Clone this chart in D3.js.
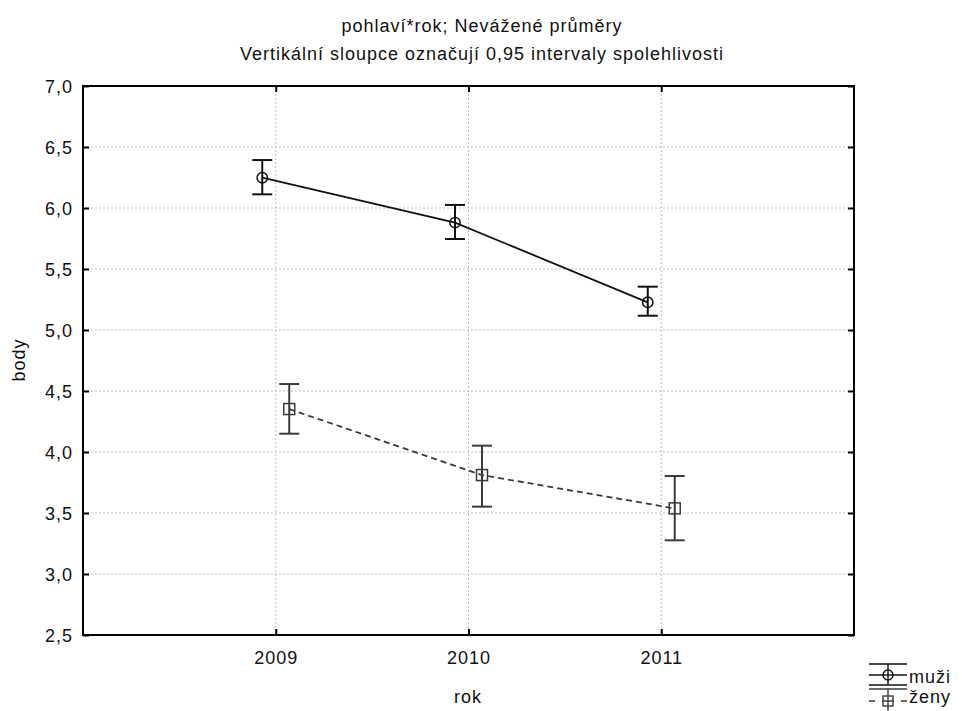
<!DOCTYPE html>
<html><head><meta charset="utf-8">
<script src="https://cdn.jsdelivr.net/npm/d3@7/dist/d3.min.js"></script>
<style>body{margin:0;background:#fff}svg{display:block}text{font-family:"Liberation Sans",Arial,sans-serif;fill:#111}</style>
</head><body>
<svg id="c" width="962" height="711"></svg>
<script>
const years = [2009, 2010, 2011];
const muziMean = [6.248, 5.880, 5.227];
const muziLow  = [6.112, 5.746, 5.117];
const muziHigh = [6.393, 6.025, 5.355];
const zenyMean = [4.352, 3.811, 3.538];
const zenyLow  = [4.150, 3.552, 3.276];
const zenyHigh = [4.557, 4.052, 3.803];
const yTicks = [2.5, 3.0, 3.5, 4.0, 4.5, 5.0, 5.5, 6.0, 6.5, 7.0];
const seriesNames = ["muži", "ženy"];
const titleLines = ["pohlaví*rok; Nevážené průměry", "Vertikální sloupce označují 0,95 intervaly spolehlivosti"];

const svg = d3.select("#c");
const L = 83, R = 854, T = 86, B = 635;
const x = d3.scaleLinear().domain([2008, 2012]).range([L, R]);
const y = d3.scaleLinear().domain([2.5, 7]).range([B, T]);
const fmt = d => d.toFixed(1).replace(".", ",");
const off = 0.07;
const FS = "18px", LS = "1px";

// grid
const g = svg.append("g");
g.selectAll(".gy").data(yTicks.slice(1, -1)).enter().append("line")
  .attr("x1", L).attr("x2", R).attr("y1", d => y(d)).attr("y2", d => y(d))
  .attr("stroke", "#bdbdbd").attr("stroke-width", 1).attr("stroke-dasharray", "2,2");
g.selectAll(".gx").data(years).enter().append("line")
  .attr("x1", d => x(d)).attr("x2", d => x(d)).attr("y1", T).attr("y2", B)
  .attr("stroke", "#bdbdbd").attr("stroke-width", 1).attr("stroke-dasharray", "2,2");

// axes with inward ticks
const axL = svg.append("g").attr("transform", `translate(${L},0)`)
  .call(d3.axisLeft(y).tickValues(yTicks).tickFormat(fmt).tickSizeInner(-6).tickSizeOuter(0).tickPadding(10));
const axR = svg.append("g").attr("transform", `translate(${R},0)`)
  .call(d3.axisRight(y).tickValues(yTicks).tickFormat("").tickSizeInner(-6).tickSizeOuter(0));
const axB = svg.append("g").attr("transform", `translate(0,${B})`)
  .call(d3.axisBottom(x).tickValues(years).tickFormat(d3.format("d")).tickSizeInner(-6).tickSizeOuter(0).tickPadding(16));
const axT = svg.append("g").attr("transform", `translate(0,${T})`)
  .call(d3.axisTop(x).tickValues(years).tickFormat("").tickSizeInner(-6).tickSizeOuter(0));
[axL, axR, axB, axT].forEach(a => {
  a.select(".domain").remove();
  a.selectAll(".tick line").attr("stroke", "#000").attr("stroke-width", 2);
  a.selectAll("text").style("font-size", FS).attr("fill", "#111").style("letter-spacing", LS);
});
axL.selectAll("text").attr("dy", "0.35em");
svg.append("rect").attr("x", L).attr("y", T).attr("width", R - L).attr("height", B - T)
  .attr("fill", "none").attr("stroke", "#000").attr("stroke-width", 2);

// series
function drawSeries(means, lows, highs, dx, color, dash, marker) {
  const pts = years.map((yr, i) => ({ x: x(yr + dx), m: y(means[i]), lo: y(lows[i]), hi: y(highs[i]) }));
  svg.append("path").datum(pts)
    .attr("d", d3.line().x(d => d.x).y(d => d.m))
    .attr("fill", "none").attr("stroke", color).attr("stroke-width", 1.8)
    .attr("stroke-dasharray", dash);
  const eg = svg.append("g").attr("stroke", color).attr("stroke-width", 2).attr("fill", "none");
  pts.forEach(p => {
    eg.append("line").attr("x1", p.x).attr("x2", p.x).attr("y1", p.hi).attr("y2", p.lo);
    eg.append("line").attr("x1", p.x - 10).attr("x2", p.x + 10).attr("y1", p.hi).attr("y2", p.hi);
    eg.append("line").attr("x1", p.x - 10).attr("x2", p.x + 10).attr("y1", p.lo).attr("y2", p.lo);
    if (marker === "circle") {
      eg.append("circle").attr("cx", p.x).attr("cy", p.m).attr("r", 5.2).attr("stroke-width", 1.5);
    } else {
      eg.append("rect").attr("x", p.x - 5.5).attr("y", p.m - 5.5).attr("width", 11).attr("height", 11).attr("stroke-width", 1.5);
    }
  });
}
drawSeries(muziMean, muziLow, muziHigh, -off, "#111", null, "circle");
drawSeries(zenyMean, zenyLow, zenyHigh, off, "#3a3a3a", "6,4", "square");

// titles
svg.selectAll(".title").data(titleLines).enter().append("text")
  .attr("x", 482).attr("y", (d, i) => 32 + i * 28).attr("text-anchor", "middle")
  .style("font-size", FS).style("letter-spacing", LS).text(d => d);
svg.append("text").attr("x", 468).attr("y", 703).attr("text-anchor", "middle")
  .style("font-size", FS).style("letter-spacing", LS).text("rok");
svg.append("text").attr("transform", "translate(25,360) rotate(-90)").attr("text-anchor", "middle")
  .style("font-size", FS).style("letter-spacing", LS).text("body");

// legend
const lg = svg.append("g");
const legendRows = [
  { name: seriesNames[0], top: 664, mid: 675, bot: 685, color: "#111", dash: null, marker: "circle", base: 683 },
  { name: seriesNames[1], top: 689, mid: 701, bot: 712, color: "#3a3a3a", dash: "6,7,12,7", marker: "square", base: 703 }
];
legendRows.forEach(r => {
  const s = lg.append("g").attr("stroke", r.color).attr("fill", "none");
  s.append("line").attr("x1", 869).attr("x2", 907).attr("y1", r.top).attr("y2", r.top).attr("stroke-width", 1.6);
  s.append("line").attr("x1", 869).attr("x2", 907).attr("y1", r.bot).attr("y2", r.bot).attr("stroke-width", 1.6);
  s.append("line").attr("x1", 869).attr("x2", 907).attr("y1", r.mid).attr("y2", r.mid).attr("stroke-width", 1.6).attr("stroke-dasharray", r.dash);
  if (r.marker === "circle") s.append("circle").attr("cx", 888).attr("cy", r.mid).attr("r", 5).attr("fill", "#fff").attr("stroke-width", 1.4);
  else s.append("rect").attr("x", 883).attr("y", r.mid - 5).attr("width", 10).attr("height", 10).attr("fill", "#fff").attr("stroke-width", 1.4);
  s.append("line").attr("x1", 888).attr("x2", 888).attr("y1", r.top).attr("y2", r.bot).attr("stroke-width", 1.4);
  s.append("line").attr("x1", 883).attr("x2", 893).attr("y1", r.mid).attr("y2", r.mid).attr("stroke-width", 1.4);
  lg.append("text").attr("x", 909).attr("y", r.base).style("font-size", FS).style("letter-spacing", LS).text(r.name);
});
</script>
</body></html>
